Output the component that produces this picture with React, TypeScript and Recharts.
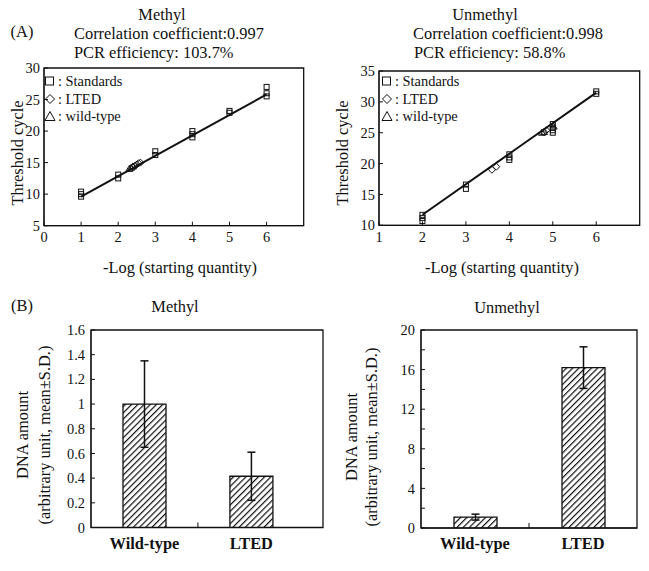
import React from "react";
import {
  ComposedChart,
  Scatter,
  Line,
  Bar,
  ErrorBar,
  XAxis,
  YAxis,
  ReferenceArea,
} from "recharts";

const FONT = '"Liberation Serif", "Times New Roman", serif';
const INK = "#111";

// (A) standard curves, Methyl
const methylStdX = [1, 1, 1, 2, 2, 3, 3, 4, 4, 4, 5, 5, 6, 6, 6];
const methylStdY = [10.4, 10.0, 9.6, 13.1, 12.5, 16.8, 16.2, 20.0, 19.5, 19.0, 23.2, 22.9, 27.0, 26.0, 25.5];
const methylLtedX = [2.4, 2.45, 2.5, 2.55, 2.6];
const methylLtedY = [14.3, 14.5, 14.7, 14.9, 15.0];
const methylWtX = [2.3, 2.35, 2.4];
const methylWtY = [14.0, 14.2, 14.4];
const methylFitX = [1, 6];
const methylFitY = [9.6, 25.8];

// (A) standard curves, Unmethyl
const unmethylStdX = [2, 2, 2, 3, 3, 4, 4, 4, 5, 5, 5, 5, 6, 6];
const unmethylStdY = [11.7, 11.2, 10.7, 16.6, 15.9, 21.5, 21.0, 20.6, 26.4, 25.8, 25.4, 25.0, 31.7, 31.3];
const unmethylLtedX = [3.6, 3.7, 4.8, 4.85];
const unmethylLtedY = [19.0, 19.5, 25.1, 25.4];
const unmethylWtX = [4.75, 4.8, 5.02];
const unmethylWtY = [25.0, 25.1, 26.0];
const unmethylFitX = [2, 6];
const unmethylFitY = [11.7, 31.5];

// (B) DNA amount
const groups = ["Wild-type", "LTED"];
const methylMean = [1.0, 0.415];
const methylSd = [0.35, 0.195];
const unmethylMean = [1.1, 16.2];
const unmethylSd = [0.3, 2.1];

const methylYTicks = [0, 0.2, 0.4, 0.6, 0.8, 1, 1.2, 1.4, 1.6];
const unmethylYTicks = [0, 2, 4, 6, 8, 10, 12, 14, 16, 18, 20];

const pts = (xs: number[], ys: number[]) => xs.map((x, i) => ({ x, y: ys[i] }));

const Square = (p: any) => (
  <rect x={p.cx - 2.5} y={p.cy - 2.5} width={5} height={5} fill="none" stroke={INK} strokeWidth={1} />
);
const Diamond = (p: any) => (
  <path
    d={`M${p.cx},${p.cy - 3.5}L${p.cx + 3.5},${p.cy}L${p.cx},${p.cy + 3.5}L${p.cx - 3.5},${p.cy}Z`}
    fill="none"
    stroke={INK}
    strokeWidth={1}
  />
);
const Triangle = (p: any) => (
  <path
    d={`M${p.cx},${p.cy - 3.5}L${p.cx + 3.5},${p.cy + 2.5}L${p.cx - 3.5},${p.cy + 2.5}Z`}
    fill="none"
    stroke={INK}
    strokeWidth={1}
  />
);

type Rect = { x: number; y: number; w: number; h: number };

// chart box is placed so the plot area lands on `plot`
const box = (plot: Rect): React.CSSProperties => ({
  position: "absolute",
  left: plot.x - 50,
  top: plot.y - 10,
  fontFamily: FONT,
});
const MARGIN = { top: 10, right: 10, left: 10, bottom: 10 };

const tickFont = { fontFamily: FONT, fontSize: 14.4, fill: INK };

function StandardCurve(props: {
  plot: Rect;
  xDomain: number[];
  xTicks: number[];
  yDomain: number[];
  yTicks: number[];
  std: { x: number; y: number }[];
  lted: { x: number; y: number }[];
  wt: { x: number; y: number }[];
  fit: { x: number; y: number }[];
}) {
  const { plot } = props;
  return (
    <div style={box(plot)}>
      <ComposedChart
        width={plot.w + 60}
        height={plot.h + 40}
        margin={MARGIN}
        style={{ fontFamily: FONT }}
      >
        <XAxis
          type="number"
          dataKey="x"
          domain={props.xDomain}
          ticks={props.xTicks}
          height={30}
          stroke={INK}
          tick={tickFont}
          tickSize={-4}
          tickMargin={10}
          allowDataOverflow
        />
        <YAxis
          type="number"
          dataKey="y"
          domain={props.yDomain}
          ticks={props.yTicks}
          width={40}
          stroke={INK}
          tick={tickFont}
          tickSize={-4}
          tickMargin={8}
          allowDataOverflow
        />
        <ReferenceArea
          x1={props.xDomain[0]}
          x2={props.xDomain[1]}
          y1={props.yDomain[0]}
          y2={props.yDomain[1]}
          fill="none"
          stroke={INK}
          strokeWidth={1.3}
        />
        <Line
          data={props.fit}
          dataKey="y"
          type="linear"
          stroke={INK}
          strokeWidth={2}
          dot={false}
          isAnimationActive={false}
        />
        <Scatter data={props.std} dataKey="y" shape={Square} isAnimationActive={false} />
        <Scatter data={props.lted} dataKey="y" shape={Diamond} isAnimationActive={false} />
        <Scatter data={props.wt} dataKey="y" shape={Triangle} isAnimationActive={false} />
      </ComposedChart>
    </div>
  );
}

const GroupTick = (p: any) => {
  const v = p.payload.value;
  if (v === 1.5) {
    return <line x1={p.x} x2={p.x} y1={p.y} y2={p.y - 5} stroke={INK} strokeWidth={1} />;
  }
  return (
    <text
      x={p.x}
      y={p.y + 21}
      textAnchor="middle"
      fontFamily={FONT}
      fontSize={16.4}
      fontWeight="bold"
      fill={INK}
    >
      {groups[v - 1]}
    </text>
  );
};

function AmountChart(props: {
  plot: Rect;
  xMax: number;
  mean: number[];
  sd: number[];
  yMax: number;
  yTicks: number[];
  labelEvery: number;
  hatchId: string;
}) {
  const { plot } = props;
  const rows = groups.map((g, i) => ({ pos: i + 1, mean: props.mean[i], sd: props.sd[i] }));
  return (
    <div style={box(plot)}>
      <ComposedChart
        width={plot.w + 60}
        height={plot.h + 40}
        margin={MARGIN}
        data={rows}
        style={{ fontFamily: FONT }}
      >
        <defs>
          <pattern
            id={props.hatchId}
            width={4.4}
            height={4.4}
            patternUnits="userSpaceOnUse"
            patternTransform="rotate(45)"
          >
            <rect width={4.4} height={4.4} fill="#fff" />
            <line x1={0} y1={0} x2={0} y2={4.4} stroke={INK} strokeWidth={2.4} />
          </pattern>
        </defs>
        <XAxis
          type="number"
          dataKey="pos"
          domain={[0.5, props.xMax]}
          ticks={[1, 1.5, 2]}
          height={30}
          stroke={INK}
          tick={GroupTick}
          tickLine={false}
          tickSize={0}
          tickMargin={0}
          allowDataOverflow
        />
        <YAxis
          type="number"
          domain={[0, props.yMax]}
          ticks={props.yTicks}
          width={40}
          stroke={INK}
          tick={tickFont}
          tickSize={-4}
          tickMargin={10}
          tickFormatter={(v: number) =>
            Math.round(v * 10) % Math.round(props.labelEvery * 10) === 0 ? String(v) : ""
          }
          allowDataOverflow
        />
        <ReferenceArea
          x1={0.5}
          x2={props.xMax}
          y1={0}
          y2={props.yMax}
          fill="none"
          stroke={INK}
          strokeWidth={1.3}
        />
        <Bar
          dataKey="mean"
          barSize={43}
          fill={`url(#${props.hatchId})`}
          stroke={INK}
          strokeWidth={1.3}
          isAnimationActive={false}
        >
          <ErrorBar dataKey="sd" width={4} stroke={INK} strokeWidth={1.5} direction="y" />
        </Bar>
      </ComposedChart>
    </div>
  );
}

function Txt(props: {
  x: number;
  y: number;
  children: React.ReactNode;
  size?: number;
  anchor?: "left" | "center";
  rotate?: boolean;
  bold?: boolean;
}) {
  const tx = props.anchor === "left" ? "0" : "-50%";
  return (
    <div
      style={{
        position: "absolute",
        left: props.x,
        top: props.y,
        transform: `translate(${tx}, -50%)${props.rotate ? " rotate(-90deg)" : ""}`,
        fontFamily: FONT,
        fontSize: props.size ?? 16.4,
        fontWeight: props.bold ? "bold" : "normal",
        lineHeight: 1,
        whiteSpace: "nowrap",
        color: INK,
      }}
    >
      {props.children}
    </div>
  );
}

function LegendRow(props: { x: number; y: number; shape: "square" | "diamond" | "triangle"; label: string }) {
  const { x, y } = props;
  return (
    <>
      <svg
        width={12}
        height={12}
        style={{ position: "absolute", left: x - 6, top: y - 6 }}
      >
        {props.shape === "square" && (
          <rect x={1.5} y={2} width={8} height={8} fill="none" stroke={INK} strokeWidth={1} />
        )}
        {props.shape === "diamond" && (
          <path d="M6,1.5L10.5,6L6,10.5L1.5,6Z" fill="none" stroke={INK} strokeWidth={1} />
        )}
        {props.shape === "triangle" && (
          <path d="M6,1.5L11,10.5L1,10.5Z" fill="none" stroke={INK} strokeWidth={1} />
        )}
      </svg>
      <Txt x={x + 8} y={y} anchor="left" size={14.4}>
        {": " + props.label}
      </Txt>
    </>
  );
}

function Legend3(props: { x: number; y: number }) {
  return (
    <>
      <LegendRow x={props.x} y={props.y} shape="square" label="Standards" />
      <LegendRow x={props.x} y={props.y + 17.5} shape="diamond" label="LTED" />
      <LegendRow x={props.x} y={props.y + 35} shape="triangle" label="wild-type" />
    </>
  );
}

export default function App() {
  return (
    <div
      style={{
        position: "absolute",
        left: 0,
        top: 0,
        width: 649,
        height: 571,
        background: "#fff",
        overflow: "hidden",
        fontFamily: FONT,
      }}
    >
      {/* (A) */}
      <Txt x={22} y={32}>(A)</Txt>
      <Txt x={162} y={15}>Methyl</Txt>
      <Txt x={74} y={34} anchor="left">Correlation coefficient:0.997</Txt>
      <Txt x={74} y={53} anchor="left">PCR efficiency: 103.7%</Txt>
      <Txt x={485} y={15}>Unmethyl</Txt>
      <Txt x={413} y={34} anchor="left">Correlation coefficient:0.998</Txt>
      <Txt x={414} y={53} anchor="left">PCR efficiency: 58.8%</Txt>

      <StandardCurve
        plot={{ x: 43.6, y: 68.3, w: 259.7, h: 167.7 }}
        xDomain={[0, 7]}
        xTicks={[0, 1, 2, 3, 4, 5, 6]}
        yDomain={[5, 30]}
        yTicks={[5, 10, 15, 20, 25, 30]}
        std={pts(methylStdX, methylStdY)}
        lted={pts(methylLtedX, methylLtedY)}
        wt={pts(methylWtX, methylWtY)}
        fit={pts(methylFitX, methylFitY)}
      />
      <StandardCurve
        plot={{ x: 379.3, y: 71, w: 260.7, h: 164.3 }}
        xDomain={[1, 7]}
        xTicks={[1, 2, 3, 4, 5, 6]}
        yDomain={[10, 35]}
        yTicks={[10, 15, 20, 25, 30, 35]}
        std={pts(unmethylStdX, unmethylStdY)}
        lted={pts(unmethylLtedX, unmethylLtedY)}
        wt={pts(unmethylWtX, unmethylWtY)}
        fit={pts(unmethylFitX, unmethylFitY)}
      />
      <Legend3 x={50} y={81} />
      <Legend3 x={387} y={81} />
      <Txt x={18} y={153} rotate>Threshold cycle</Txt>
      <Txt x={343} y={153} rotate>Threshold cycle</Txt>
      <Txt x={180} y={268}>-Log (starting quantity)</Txt>
      <Txt x={502} y={268}>-Log (starting quantity)</Txt>

      {/* (B) */}
      <Txt x={22} y={306}>(B)</Txt>
      <Txt x={175} y={307}>Methyl</Txt>
      <Txt x={507} y={308}>Unmethyl</Txt>
      <AmountChart
        plot={{ x: 91, y: 330, w: 232, h: 207.5 }}
        xMax={2.67}
        mean={methylMean}
        sd={methylSd}
        yMax={1.6}
        yTicks={methylYTicks}
        labelEvery={0.2}
        hatchId="hatchMethyl"
      />
      <AmountChart
        plot={{ x: 421, y: 330, w: 216, h: 208 }}
        xMax={2.5}
        mean={unmethylMean}
        sd={unmethylSd}
        yMax={20}
        yTicks={unmethylYTicks}
        labelEvery={4}
        hatchId="hatchUnmethyl"
      />
      <Txt x={23} y={435} rotate>DNA amount</Txt>
      <Txt x={45} y={435} rotate>(arbitrary unit, mean±S.D.)</Txt>
      <Txt x={352} y={437} rotate>DNA amount</Txt>
      <Txt x={372} y={437} rotate>(arbitrary unit, mean±S.D.)</Txt>
    </div>
  );
}
